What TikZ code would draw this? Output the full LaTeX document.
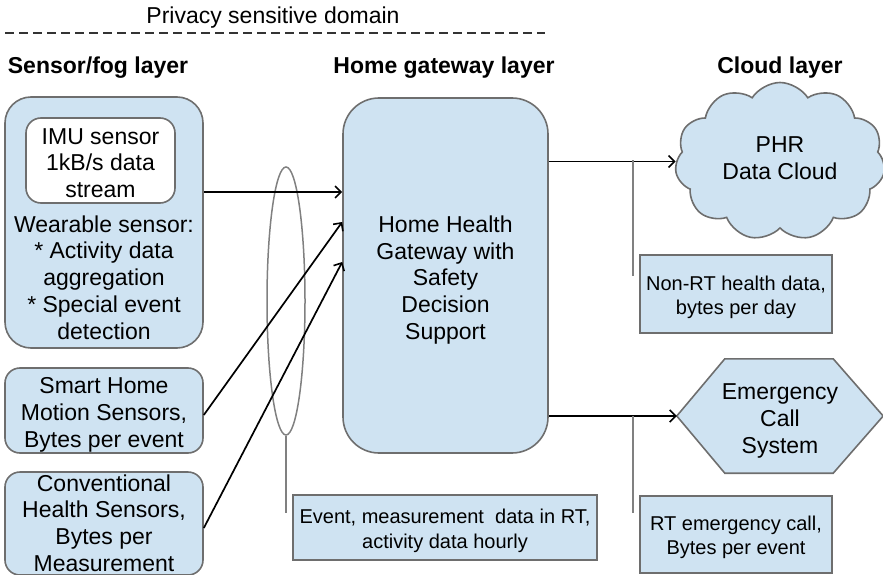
\documentclass[tikz,border=0pt]{standalone}
\usepackage{fontspec}
\setmainfont{Liberation Sans}
\usetikzlibrary{arrows.meta,shapes.symbols,shapes.geometric}
\definecolor{boxfill}{RGB}{207,227,242}
\definecolor{boxline}{RGB}{110,110,110}
\definecolor{thinline}{RGB}{128,128,128}
\tikzset{
  txt/.style={font=\fontsize{23}{26.8}\selectfont, align=center, inner sep=0pt},
  smalltxt/.style={font=\fontsize{20}{24.5}\selectfont, align=center, inner sep=0pt},
  head/.style={font=\fontsize{23}{26.8}\selectfont\bfseries, inner sep=0pt},
  roundbox/.style={draw=boxline, fill=boxfill, line width=1.6pt, inner sep=0pt},
  notebox/.style={draw=boxline, fill=boxfill, line width=1.6pt, inner sep=0pt},
  arr/.style={line width=1.7pt, -{Straight Barb[length=6pt,width=12pt,line width=1.6pt]}},
  grayline/.style={draw=thinline, line width=1.5pt}
}
\begin{document}
\begin{tikzpicture}[x=1pt,y=-1pt]
\useasboundingbox (0,0) rectangle (883,575);

% privacy domain marker
\node[txt] (privacy) at (273,18) {Privacy sensitive domain};
\coordinate (dashL) at (5,33);
\coordinate (dashR) at (545,33);
\draw[line width=1.5pt, dash pattern=on 9pt off 5pt, black!80] (dashL) -- (dashR);

% layer headings
\node[head] (hsensor) at (98,68) {Sensor/fog layer};
\node[head] (hgate) at (444,68) {Home gateway layer};
\node[head] (hcloud) at (780,68) {Cloud layer};

% sensor / fog layer
\node[roundbox, rounded corners=26pt, minimum width=198, minimum height=251] (wear) at (104,222.5) {};
\node[draw=boxline, fill=white, line width=1.6pt, rounded corners=15pt,
      minimum width=149, minimum height=85, inner sep=0pt] (imu) at (100.5,160.5) {};
\node[txt] (imutxt) at (100.5,163) {IMU sensor\\1kB/s data\\stream};
\node[txt] (weartxt) at (104,277.5) {Wearable sensor:\\* Activity data\\aggregation\\* Special event\\detection};

\node[roundbox, rounded corners=15pt, minimum width=198, minimum height=85] (smart) at (104,410.5) {};
\node[txt] (smarttxt) at (104,415) {Smart Home\\Motion Sensors,\\Bytes per event};

\node[roundbox, rounded corners=15pt, minimum width=198, minimum height=103] (conv) at (104,523.5) {};
\node[txt] (convtxt) at (104,523) {Conventional\\Health Sensors,\\Bytes per\\Measurement};

% home gateway layer
\node[roundbox, rounded corners=36pt, minimum width=205, minimum height=355] (gw) at (445.5,275.5) {};
\node[txt] (gwtxt) at (445.5,280) {Home Health\\Gateway with\\Safety\\Decision\\Support};

% cloud layer
\node[cloud, cloud puffs=11, cloud puff arc=115, aspect=1.3, draw=boxline, fill=boxfill,
      line width=1.6pt, minimum width=210, minimum height=158, inner sep=0pt] (cloud) at (780,161.5) {};
\node[txt] (cloudtxt) at (780,158) {PHR\\Data Cloud};

\node[minimum width=206, minimum height=114, inner sep=0pt] (ecs) at (780,416) {};
\draw[draw=boxline, fill=boxfill, line width=1.6pt]
  (ecs.west) -- ([xshift=48]ecs.north west) -- ([xshift=-50]ecs.north east)
  -- (ecs.east) -- ([xshift=-50]ecs.south east) -- ([xshift=48]ecs.south west) -- cycle;
\node[txt] (ecstxt) at (780,421) {Emergency\\Call\\System};

% data flow annotations
\node[notebox, minimum width=304, minimum height=65] (evnote) at (445,527.5) {};
\node[smalltxt] (evtxt) at (445,531) {Event, measurement\ \ data in RT,\\activity data hourly};
\node[notebox, minimum width=192, minimum height=78] (nrtnote) at (736,294) {};
\node[smalltxt] (nrttxt) at (736,297.5) {Non-RT health data,\\bytes per day};
\node[notebox, minimum width=192, minimum height=77] (rtnote) at (736,534.5) {};
\node[smalltxt] (rttxt) at (736,537.5) {RT emergency call,\\Bytes per event};

% bundle of sensor links
\node[ellipse, grayline, minimum width=38, minimum height=268, inner sep=0pt] (bundle) at (286,301) {};
\coordinate (bundleEnd) at (286,513);
\draw[grayline] (bundle.south) -- (bundleEnd);

% sensor links into the gateway
\coordinate (yImu) at (0,192);
\coordinate (ySmart) at (0,222);
\coordinate (yConv) at (0,262);
\draw[arr] (wear.east |- yImu) -- (gw.west |- yImu);
\draw[arr] (smart.east |- 0,415) -- (gw.west |- ySmart);
\draw[arr] (conv.east |- 0,528) -- (gw.west |- yConv);

% gateway outputs
\draw[arr] (gw.east |- cloud.west) -- (cloud.west);
\draw[arr] (gw.east |- ecs.west) -- (ecs.west);
\coordinate (upTop) at (633,160);
\coordinate (upBot) at (633,276);
\coordinate (lowTop) at (633,416);
\coordinate (lowBot) at (633,513);
\draw[grayline] (upTop) -- (upBot);
\draw[grayline] (lowTop) -- (lowBot);
\end{tikzpicture}
\end{document}
